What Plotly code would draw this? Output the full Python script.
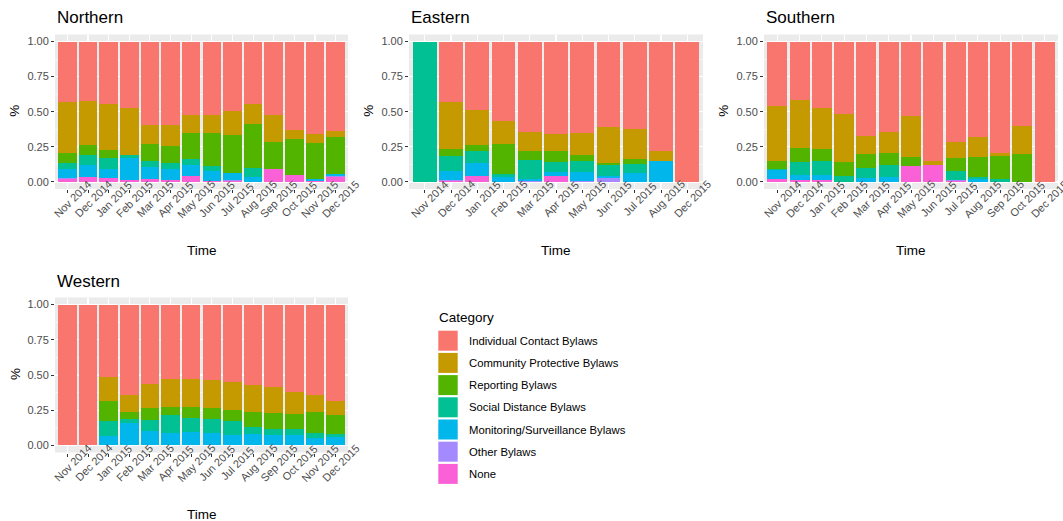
import plotly.graph_objects as go

# ---- data -------------------------------------------------------------
categories = [
    "Individual Contact Bylaws",
    "Community Protective Bylaws",
    "Reporting Bylaws",
    "Social Distance Bylaws",
    "Monitoring/Surveillance Bylaws",
    "Other Bylaws",
    "None",
]
colors = ["#F8766D", "#C49A00", "#53B400", "#00C094", "#00B6EB", "#A58AFF", "#FB61D7"]

months_north = ["Nov 2014", "Dec 2014", "Jan 2015", "Feb 2015", "Mar 2015", "Apr 2015", "May 2015",
                "Jun 2015", "Jul 2015", "Aug 2015", "Sep 2015", "Oct 2015", "Nov 2015", "Dec 2015"]
months_east = ["Nov 2014", "Dec 2014", "Jan 2015", "Feb 2015", "Mar 2015", "Apr 2015", "May 2015",
               "Jun 2015", "Jul 2015", "Aug 2015", "Dec 2015"]
months_south = ["Nov 2014", "Dec 2014", "Jan 2015", "Feb 2015", "Mar 2015", "Apr 2015", "May 2015",
                "Jun 2015", "Jul 2015", "Aug 2015", "Sep 2015", "Oct 2015", "Dec 2015"]
months_west = ["Nov 2014", "Dec 2014", "Jan 2015", "Feb 2015", "Mar 2015", "Apr 2015", "May 2015",
               "Jun 2015", "Jul 2015", "Aug 2015", "Sep 2015", "Oct 2015", "Nov 2015", "Dec 2015"]

# shares per category (same order as `categories`)
north_individual = [0.427, 0.420, 0.445, 0.475, 0.597, 0.597, 0.526, 0.526, 0.492, 0.445, 0.526, 0.630, 0.661, 0.637]
north_community  = [0.364, 0.319, 0.327, 0.330, 0.135, 0.147, 0.123, 0.123, 0.171, 0.142, 0.191, 0.062, 0.059, 0.040]
north_reporting  = [0.076, 0.069, 0.055, 0.005, 0.119, 0.118, 0.187, 0.235, 0.272, 0.311, 0.188, 0.261, 0.260, 0.266]
north_social     = [0.043, 0.073, 0.078, 0.020, 0.040, 0.048, 0.043, 0.038, 0.000, 0.069, 0.000, 0.000, 0.000, 0.000]
north_monitoring = [0.065, 0.083, 0.065, 0.153, 0.090, 0.076, 0.078, 0.073, 0.052, 0.033, 0.000, 0.000, 0.012, 0.012]
north_other      = [0.005, 0.000, 0.000, 0.000, 0.000, 0.000, 0.000, 0.000, 0.008, 0.000, 0.000, 0.000, 0.000, 0.010]
north_none       = [0.020, 0.036, 0.030, 0.017, 0.019, 0.014, 0.043, 0.005, 0.005, 0.000, 0.095, 0.047, 0.008, 0.035]

east_individual = [0.000, 0.427, 0.486, 0.564, 0.642, 0.656, 0.649, 0.609, 0.623, 0.780, 1.000]
east_community  = [0.000, 0.338, 0.253, 0.166, 0.138, 0.124, 0.159, 0.253, 0.213, 0.073, 0.000]
east_reporting  = [0.000, 0.048, 0.041, 0.213, 0.063, 0.075, 0.042, 0.019, 0.034, 0.000, 0.000]
east_social     = [1.000, 0.109, 0.087, 0.024, 0.135, 0.071, 0.076, 0.074, 0.068, 0.000, 0.000]
east_monitoring = [0.000, 0.063, 0.088, 0.033, 0.012, 0.034, 0.069, 0.020, 0.062, 0.147, 0.000]
east_other      = [0.000, 0.007, 0.000, 0.000, 0.010, 0.000, 0.005, 0.025, 0.000, 0.000, 0.000]
east_none       = [0.000, 0.008, 0.045, 0.000, 0.000, 0.040, 0.000, 0.000, 0.000, 0.000, 0.000]

south_individual = [0.457, 0.415, 0.474, 0.517, 0.670, 0.642, 0.530, 0.850, 0.718, 0.677, 0.794, 0.599, 1.000]
south_community  = [0.391, 0.345, 0.294, 0.338, 0.130, 0.149, 0.290, 0.027, 0.109, 0.143, 0.021, 0.201, 0.000]
south_reporting  = [0.062, 0.095, 0.085, 0.102, 0.103, 0.090, 0.064, 0.000, 0.093, 0.142, 0.166, 0.200, 0.000]
south_social     = [0.005, 0.098, 0.097, 0.043, 0.066, 0.081, 0.000, 0.000, 0.066, 0.018, 0.019, 0.000, 0.000]
south_monitoring = [0.066, 0.033, 0.036, 0.000, 0.031, 0.038, 0.000, 0.000, 0.000, 0.020, 0.000, 0.000, 0.000]
south_other      = [0.000, 0.000, 0.000, 0.000, 0.000, 0.000, 0.000, 0.000, 0.006, 0.000, 0.000, 0.000, 0.000]
south_none       = [0.019, 0.014, 0.014, 0.000, 0.000, 0.000, 0.116, 0.123, 0.008, 0.000, 0.000, 0.000, 0.000]

west_individual = [1.000, 1.000, 0.512, 0.642, 0.566, 0.526, 0.526, 0.535, 0.547, 0.573, 0.587, 0.623, 0.642, 0.682]
west_community  = [0.000, 0.000, 0.170, 0.122, 0.165, 0.198, 0.198, 0.196, 0.201, 0.187, 0.180, 0.153, 0.118, 0.099]
west_reporting  = [0.000, 0.000, 0.146, 0.050, 0.090, 0.061, 0.078, 0.083, 0.080, 0.106, 0.115, 0.106, 0.150, 0.136]
west_social     = [0.000, 0.000, 0.104, 0.028, 0.075, 0.125, 0.106, 0.099, 0.099, 0.056, 0.043, 0.043, 0.038, 0.026]
west_monitoring = [0.000, 0.000, 0.068, 0.158, 0.099, 0.085, 0.087, 0.082, 0.068, 0.073, 0.070, 0.070, 0.047, 0.052]
west_other      = [0.000, 0.000, 0.000, 0.000, 0.005, 0.005, 0.005, 0.005, 0.005, 0.005, 0.005, 0.005, 0.005, 0.005]
west_none       = [0.000, 0.000, 0.000, 0.000, 0.000, 0.000, 0.000, 0.000, 0.000, 0.000, 0.000, 0.000, 0.000, 0.000]

regions = [
    ("Northern", months_north, [north_individual, north_community, north_reporting, north_social,
                                north_monitoring, north_other, north_none]),
    ("Eastern", months_east, [east_individual, east_community, east_reporting, east_social,
                              east_monitoring, east_other, east_none]),
    ("Southern", months_south, [south_individual, south_community, south_reporting, south_social,
                                south_monitoring, south_other, south_none]),
    ("Western", months_west, [west_individual, west_community, west_reporting, west_social,
                              west_monitoring, west_other, west_none]),
]

# ---- page geometry (pixels) ---------------------------------------------
W, H = 1063, 521
FONT = "Liberation Sans, Arial, sans-serif"
px = lambda x: x / W
py = lambda y: 1 - y / H

panel_x = [(55, 348), (409, 703), (764, 1058), (55, 348)]
panel_y = [(34.5, 189), (34.5, 189), (34.5, 189), (297.5, 452.5)]

fig = go.Figure()
layout = {}
annotations = []
shapes = []

for i, (name, months, series) in enumerate(regions):
    k = "" if i == 0 else str(i + 1)
    xa, ya = "x" + k, "y" + k
    # stack from the bottom up: None first, Individual Contact last
    for cat, col, vals in reversed(list(zip(categories, colors, series))):
        fig.add_trace(go.Bar(
            x=months, y=vals, name=cat, marker=dict(color=col, line=dict(width=0)),
            xaxis=xa, yaxis=ya, showlegend=False,
        ))
    x0, x1 = panel_x[i]
    y0, y1 = panel_y[i]
    layout["xaxis" + k] = dict(
        domain=[px(x0), px(x1)], anchor=ya, type="category",
        categoryorder="array", categoryarray=months,
        range=[-0.6, len(months) - 0.4],
        showgrid=True, gridcolor="white", gridwidth=1.1,
        ticks="outside", ticklen=3, tickcolor="#333333", tickwidth=1,
        showticklabels=False, showline=False, zeroline=False, fixedrange=True,
    )
    layout["yaxis" + k] = dict(
        domain=[py(y1), py(y0)], anchor=xa, range=[-0.05, 1.05],
        tickvals=[0, 0.25, 0.5, 0.75, 1.0], ticktext=["0.00", "0.25", "0.50", "0.75", "1.00"],
        tickfont=dict(family=FONT, size=11, color="#4D4D4D"),
        showgrid=True, gridcolor="white", gridwidth=1.1,
        minor=dict(tickvals=[0.125, 0.375, 0.625, 0.875], showgrid=True,
                   gridcolor="white", gridwidth=0.55, ticks=""),
        ticks="outside", ticklen=3, tickcolor="#333333", tickwidth=1,
        showline=False, zeroline=False, fixedrange=True,
    )
    # panel background
    shapes.append(dict(type="rect", xref="paper", yref="paper", x0=px(x0), x1=px(x1),
                       y0=py(y1), y1=py(y0), fillcolor="#EBEBEB", line=dict(width=0),
                       layer="below"))
    # rotated month labels under each bar
    for m in months:
        annotations.append(dict(
            text=m, xref=xa, x=m, yref=ya + " domain", y=0, yshift=-10, xshift=5,
            xanchor="center", yanchor="middle", textangle=-45, showarrow=False,
            font=dict(family=FONT, size=11, color="#4D4D4D"),
        ))
    # panel title
    annotations.append(dict(
        text=name, xref="paper", yref="paper", x=px(x0), y=py(y0 - 16.5),
        xanchor="left", yanchor="middle", showarrow=False,
        font=dict(family=FONT, size=17, color="black"),
    ))
    # axis titles
    annotations.append(dict(
        text="Time", xref="paper", yref="paper", x=px((x0 + x1) / 2), y=py(y1 + 61.5),
        xanchor="center", yanchor="middle", showarrow=False,
        font=dict(family=FONT, size=13.5, color="black"),
    ))
    annotations.append(dict(
        text="%", xref="paper", yref="paper", x=px(x0 - 40), y=py((y0 + y1) / 2 - 1),
        xanchor="center", yanchor="middle", textangle=-90, showarrow=False,
        font=dict(family=FONT, size=13.5, color="black"),
    ))

# legend drawn as keys + labels
annotations.append(dict(
    text="Category", xref="paper", yref="paper", x=px(437), y=py(317),
    xanchor="left", yanchor="middle", showarrow=False,
    font=dict(family=FONT, size=13.5, color="black"),
))
for j, (cat, col) in enumerate(zip(categories, colors)):
    top = 330.7 + j * 22.2
    shapes.append(dict(type="rect", xref="paper", yref="paper", x0=px(438.3), x1=px(457.7),
                       y0=py(top + 20), y1=py(top), fillcolor=col, line=dict(width=0)))
    annotations.append(dict(
        text=cat, xref="paper", yref="paper", x=px(466.5), y=py(top + 10),
        xanchor="left", yanchor="middle", showarrow=False,
        font=dict(family=FONT, size=11.3, color="black"),
    ))

fig.update_layout(
    width=W, height=H, margin=dict(l=0, r=0, t=0, b=0),
    paper_bgcolor="white", plot_bgcolor="rgba(0,0,0,0)",
    barmode="stack", bargap=0.1, showlegend=False,
    font=dict(family=FONT), annotations=annotations, shapes=shapes,
    **layout,
)

fig.write_html("out.html", config={"displayModeBar": False, "staticPlot": True})
